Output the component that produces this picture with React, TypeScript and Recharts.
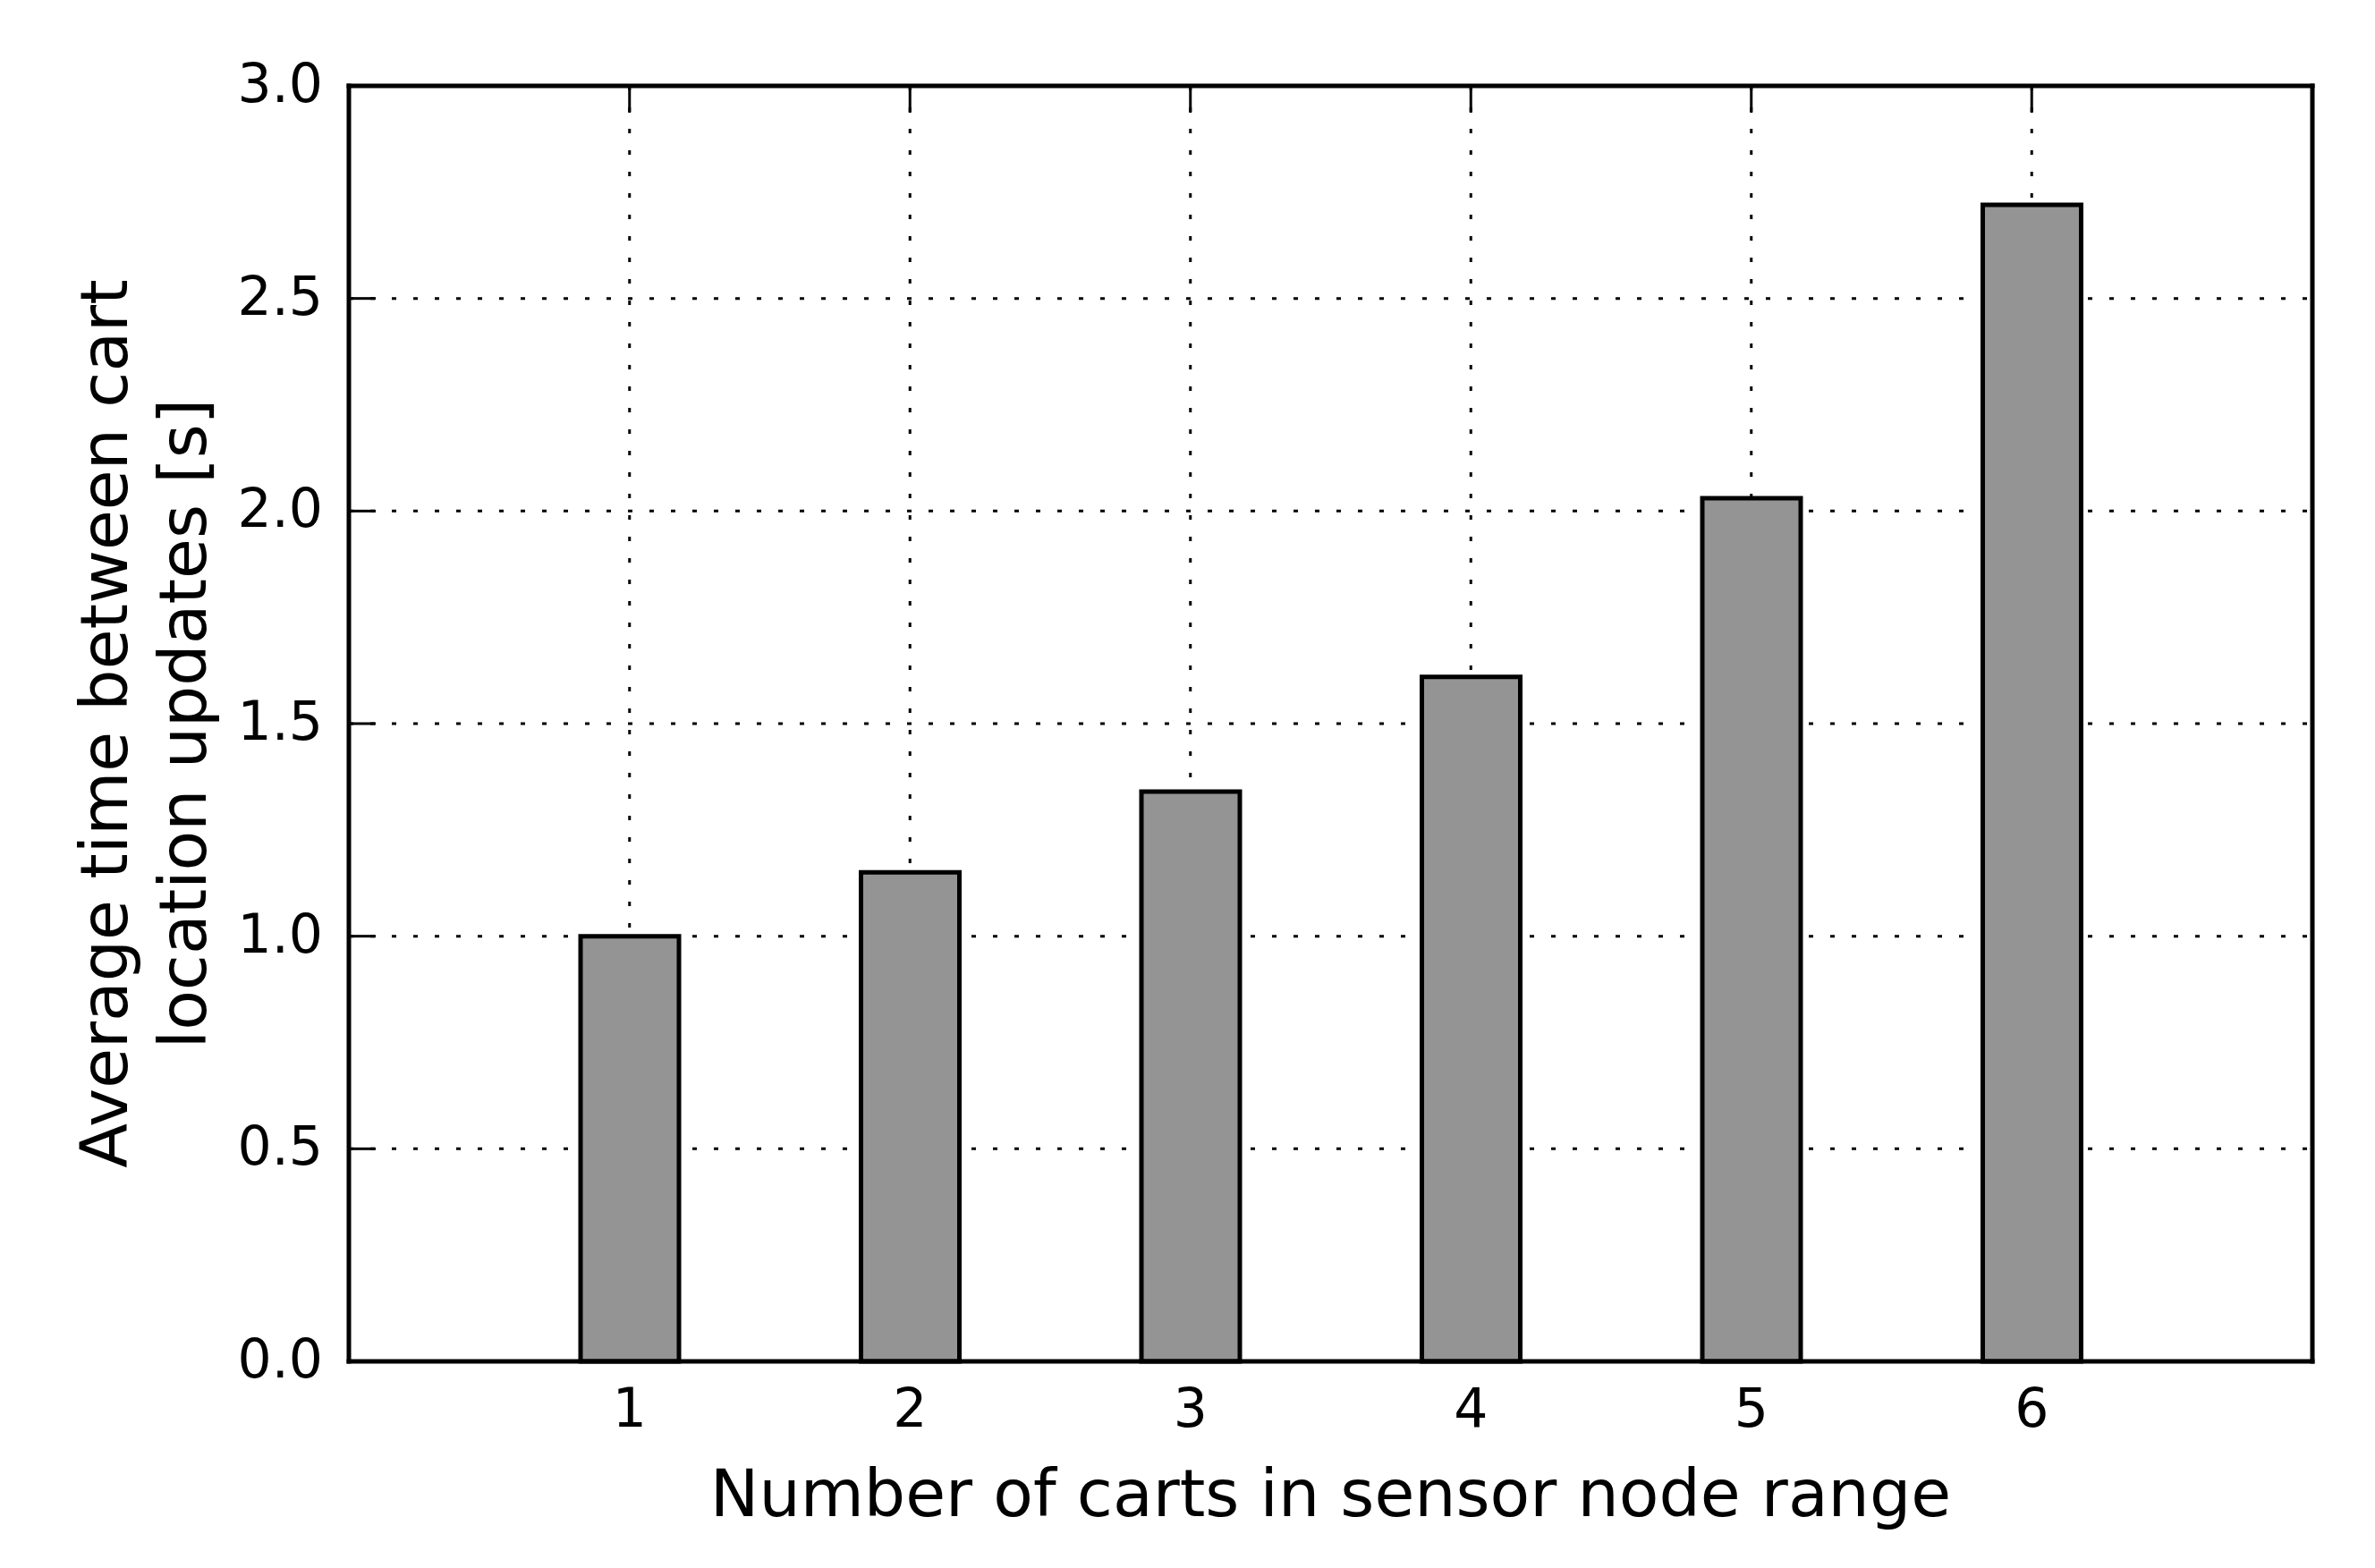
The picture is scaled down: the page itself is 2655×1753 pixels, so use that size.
import React from 'react';
import { BarChart, Bar, XAxis, YAxis, CartesianGrid, Label } from 'recharts';

// values
const carts = ['1', '2', '3', '4', '5', '6'];
const avgUpdateTime = [1.0, 1.15, 1.34, 1.61, 2.03, 2.72];
const yTicks = [0, 0.5, 1.0, 1.5, 2.0, 2.5, 3.0];

const data = carts.map((c, i) => ({ carts: c, time: avgUpdateTime[i] }));

const FONT = '"DejaVu Sans", sans-serif';
const TICK_LEN = 30;
const TICK_FONT = 60;
const LABEL_FONT = 73;

// bottom ticks are hidden behind the bars in the original, so only the label is drawn
const BottomTick = (props: any) => {
    const { x, y, payload } = props;
    return (
        <text x={x} y={y + 73} textAnchor="middle" fontFamily={FONT} fontSize={TICK_FONT} fill="#000">
            {payload.value}
        </text>
    );
};

const TopTick = (props: any) => {
    const { x, y } = props;
    return <line x1={x} y1={y} x2={x} y2={y + TICK_LEN} stroke="#000" strokeWidth={3} />;
};

const LeftTick = (props: any) => {
    const { x, y, payload } = props;
    return (
        <g>
            <line x1={x} y1={y} x2={x + TICK_LEN} y2={y} stroke="#000" strokeWidth={3} />
            <text x={x - 29} y={y + 18} textAnchor="end" fontFamily={FONT} fontSize={TICK_FONT} fill="#000">
                {Number(payload.value).toFixed(1)}
            </text>
        </g>
    );
};

const RightTick = (props: any) => {
    const { x, y } = props;
    return <line x1={x} y1={y} x2={x - TICK_LEN} y2={y} stroke="#000" strokeWidth={3} />;
};

const XTitle = (props: any) => {
    const { viewBox } = props;
    const cx = viewBox.x + viewBox.width / 2;
    return (
        <text x={cx} y={viewBox.y + 173} textAnchor="middle" fontFamily={FONT} fontSize={LABEL_FONT} fill="#000">
            Number of carts in sensor node range
        </text>
    );
};

const YTitle = (props: any) => {
    const { viewBox } = props;
    const cy = viewBox.y + viewBox.height / 2;
    return (
        <g fontFamily={FONT} fontSize={LABEL_FONT} fill="#000">
            <text transform={`translate(142, ${cy}) rotate(-90)`} textAnchor="middle">
                Average time between cart
            </text>
            <text transform={`translate(230, ${cy}) rotate(-90)`} textAnchor="middle">
                location updates [s]
            </text>
        </g>
    );
};

const App: React.FC = () => {
    return (
        <div style={{ position: 'absolute', left: 0, top: 0, background: '#fff' }}>
            <BarChart
                width={2655}
                height={1753}
                data={data}
                margin={{ top: 95, right: 69, left: 0, bottom: 0 }}
            >
                <CartesianGrid
                    xAxisId="b"
                    yAxisId="l"
                    stroke="#000"
                    strokeWidth={3}
                    strokeDasharray="5 19"
                />
                <XAxis
                    xAxisId="b"
                    dataKey="carts"
                    height={231}
                    padding={{ left: 157, right: 157 }}
                    interval={0}
                    tickSize={0}
                    tickMargin={0}
                    tickLine={false}
                    tick={BottomTick}
                    axisLine={{ stroke: '#000', strokeWidth: 5, strokeLinecap: 'square' }}
                >
                    <Label content={XTitle} />
                </XAxis>
                <XAxis
                    xAxisId="t"
                    dataKey="carts"
                    orientation="top"
                    height={1}
                    padding={{ left: 157, right: 157 }}
                    interval={0}
                    tickSize={0}
                    tickMargin={0}
                    tickLine={false}
                    tick={TopTick}
                    axisLine={{ stroke: '#000', strokeWidth: 5, strokeLinecap: 'square' }}
                />
                <YAxis
                    yAxisId="l"
                    width={390}
                    domain={[0, 3]}
                    ticks={yTicks}
                    interval={0}
                    tickSize={0}
                    tickMargin={0}
                    tickLine={false}
                    tick={LeftTick}
                    axisLine={{ stroke: '#000', strokeWidth: 5, strokeLinecap: 'square' }}
                >
                    <Label content={YTitle} />
                </YAxis>
                <YAxis
                    yAxisId="r"
                    orientation="right"
                    width={1}
                    domain={[0, 3]}
                    ticks={yTicks}
                    interval={0}
                    tickSize={0}
                    tickMargin={0}
                    tickLine={false}
                    tick={RightTick}
                    axisLine={{ stroke: '#000', strokeWidth: 5, strokeLinecap: 'square' }}
                />
                <Bar
                    xAxisId="b"
                    yAxisId="l"
                    dataKey="time"
                    barSize={110}
                    fill="#949494"
                    stroke="#000"
                    strokeWidth={5}
                    isAnimationActive={false}
                />
            </BarChart>
        </div>
    );
};

export default App;
